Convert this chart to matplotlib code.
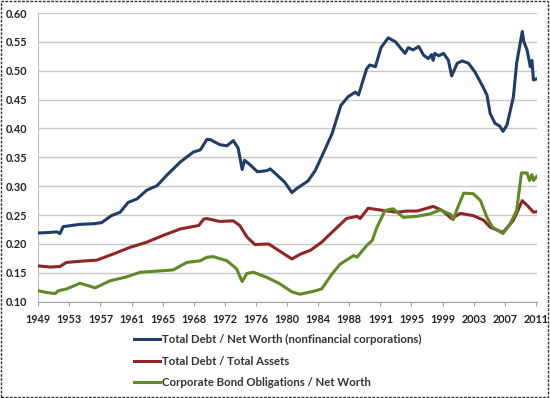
import matplotlib
matplotlib.use("Agg")
import matplotlib.pyplot as plt
from matplotlib.lines import Line2D
from matplotlib.patches import Rectangle
import numpy as np

plt.rcParams['font.family'] = ['Lato', 'DejaVu Sans']

# values (year, ratio)
debt_nw_year = [1949, 1950.5, 1951.3, 1951.7, 1952.1, 1954.2, 1955.9, 1956.9, 1958.1, 1959.2,
                1960.2, 1961.3, 1962.5, 1963.8, 1965.0, 1966.7, 1968.3, 1969.2, 1970.0, 1970.4,
                1971.6, 1972.5, 1973.3, 1973.9, 1974.4, 1974.7, 1975.4, 1976.3, 1977.5, 1977.9,
                1978.7, 1979.7, 1980.6, 1981.2, 1982.6, 1983.5, 1984.6, 1985.6, 1986.7, 1987.6,
                1988.5, 1988.9, 1989.9, 1990.3, 1991.0, 1991.7, 1992.6, 1993.5, 1994.7, 1995.1,
                1995.7, 1996.4, 1997.0, 1997.6, 1998.0, 1998.2, 1998.4, 1998.9, 1999.5, 2000.1,
                2000.5, 2001.2, 2001.8, 2002.6, 2003.4, 2004.3, 2004.9, 2005.3, 2005.9, 2006.5,
                2006.9, 2007.4, 2008.2, 2008.6, 2009.3, 2009.5, 2009.9, 2010.3, 2010.5, 2010.7,
                2011.1]
debt_nw = [0.219, 0.220, 0.221, 0.218, 0.230, 0.234, 0.235, 0.237, 0.249, 0.255,
           0.272, 0.278, 0.293, 0.301, 0.319, 0.342, 0.359, 0.363, 0.381, 0.381,
           0.372, 0.370, 0.379, 0.366, 0.329, 0.345, 0.337, 0.325, 0.327, 0.330,
           0.320, 0.307, 0.289, 0.296, 0.309, 0.327, 0.360, 0.391, 0.440, 0.455,
           0.463, 0.458, 0.503, 0.510, 0.507, 0.540, 0.557, 0.550, 0.530, 0.540,
           0.536, 0.542, 0.527, 0.521, 0.528, 0.518, 0.530, 0.526, 0.530, 0.518,
           0.491, 0.513, 0.517, 0.513, 0.498, 0.475, 0.458, 0.426, 0.409, 0.404,
           0.395, 0.406, 0.455, 0.513, 0.568, 0.550, 0.536, 0.507, 0.518, 0.484,
           0.486]

debt_assets_year = [1949, 1950.5, 1951.7, 1952.5, 1954.2, 1956.3, 1958.4, 1960.4, 1962.5, 1964.6,
                    1966.7, 1969.0, 1969.6, 1970.0, 1971.6, 1973.3, 1974.1, 1975.0, 1976.0, 1977.7,
                    1978.7, 1980.6, 1981.6, 1982.9, 1984.3, 1985.8, 1987.4, 1988.7, 1989.1, 1990.1,
                    1990.5, 1992.0, 1993.7, 1994.9, 1996.2, 1998.2, 1999.3, 2000.5, 2001.6, 2003.2,
                    2004.5, 2005.3, 2006.9, 2008.2, 2009.3, 2009.9, 2010.7, 2011.1]
debt_assets = [0.162, 0.160, 0.161, 0.168, 0.170, 0.172, 0.183, 0.194, 0.203, 0.215,
               0.226, 0.232, 0.243, 0.244, 0.239, 0.240, 0.232, 0.212, 0.199, 0.200,
               0.191, 0.174, 0.182, 0.189, 0.203, 0.223, 0.244, 0.248, 0.244, 0.262,
               0.261, 0.258, 0.255, 0.257, 0.257, 0.265, 0.258, 0.244, 0.253, 0.249,
               0.241, 0.229, 0.220, 0.241, 0.275, 0.267, 0.255, 0.256]

bonds_nw_year = [1949, 1950.0, 1951.1, 1951.5, 1952.5, 1954.2, 1956.1, 1957.9, 1960.0, 1961.7,
                 1963.8, 1965.8, 1967.5, 1969.2, 1970.0, 1970.8, 1972.5, 1973.7, 1974.4, 1975.0,
                 1975.8, 1977.5, 1979.1, 1980.6, 1981.6, 1983.3, 1984.3, 1985.6, 1986.6, 1988.3,
                 1988.7, 1989.9, 1990.6, 1991.2, 1992.2, 1993.2, 1994.5, 1996.2, 1997.8, 1999.1,
                 2000.4, 2000.7, 2001.2, 2002.0, 2003.2, 2004.1, 2004.9, 2005.6, 2006.9, 2007.8,
                 2008.6, 2009.2, 2009.9, 2010.2, 2010.5, 2010.7, 2011.1]
bonds_nw = [0.119, 0.116, 0.114, 0.119, 0.122, 0.132, 0.124, 0.136, 0.143, 0.151,
            0.153, 0.155, 0.168, 0.171, 0.177, 0.178, 0.171, 0.157, 0.135, 0.149,
            0.151, 0.142, 0.131, 0.117, 0.113, 0.118, 0.122, 0.148, 0.165, 0.180,
            0.177, 0.197, 0.206, 0.229, 0.258, 0.261, 0.246, 0.248, 0.252, 0.259,
            0.251, 0.242, 0.261, 0.288, 0.287, 0.275, 0.246, 0.229, 0.218, 0.235,
            0.258, 0.323, 0.323, 0.310, 0.320, 0.310, 0.317]

tick_labels = ["1949", "1953", "1957", "1961", "1965", "1968", "1972", "1976", "1980",
               "1984", "1988", "1991", "1995", "1999", "2003", "2007", "2011"]
series_names = ["Total Debt / Net Worth (nonfinancial corporations)",
                "Total Debt / Total Assets",
                "Corporate Bond Obligations / Net Worth"]
colours = ["#1f3d66", "#8e2628", "#5f8a26"]

fig = plt.figure(figsize=(5.5, 3.98), dpi=100)
ax = fig.add_axes([38.3 / 550, 1 - 301.7 / 398, (536.7 - 38.3) / 550, (301.7 - 13) / 398])

for xs, ys, c in zip([debt_nw_year, debt_assets_year, bonds_nw_year],
                     [debt_nw, debt_assets, bonds_nw], colours):
    ax.plot(xs, ys, color=c, lw=2.2, solid_joinstyle='round', zorder=3)

ax.set_xlim(1949, 2011.1)
ax.set_ylim(0.10, 0.60)
ax.set_yticks(np.arange(0.10, 0.601, 0.05))
ax.set_yticklabels(["{:.2f}".format(v) for v in np.arange(0.10, 0.601, 0.05)])
ax.set_xticks(np.linspace(1949, 2011, len(tick_labels)))
ax.set_xticklabels(tick_labels)

ax.grid(axis='y', color='#c8c8c8', lw=1.0)
ax.set_axisbelow(True)
for s in ['top', 'right']:
    ax.spines[s].set_visible(False)
ax.spines['left'].set_color('#c0c0c0')
ax.spines['bottom'].set_color('#a0a0a0')
ax.tick_params(axis='y', length=0, pad=8, labelsize=7.8, labelcolor='#222222')
ax.tick_params(axis='x', length=3, color='#a0a0a0', direction='out', pad=6,
               labelsize=7.8, labelcolor='#222222')
for lab in ax.get_xticklabels() + ax.get_yticklabels():
    lab.set_fontweight('bold')

handles = [Line2D([], [], color=c, lw=2.2) for c in colours]
leg = fig.legend(handles, series_names, loc='upper left',
                 bbox_to_anchor=(124 / 550, 1 - 323.5 / 398), frameon=False,
                 handlelength=2.3, handletextpad=0.1, labelspacing=0.95,
                 prop={'size': 8.2, 'weight': 'bold'})
for t in leg.get_texts():
    t.set_color('#333333')

fig.patches.append(Rectangle((0.002, 0.003), 0.995, 0.994, transform=fig.transFigure,
                             fill=False, ec='#333333', lw=1.0, ls=(0, (2, 1))))

fig.savefig("out.png", dpi=100)
